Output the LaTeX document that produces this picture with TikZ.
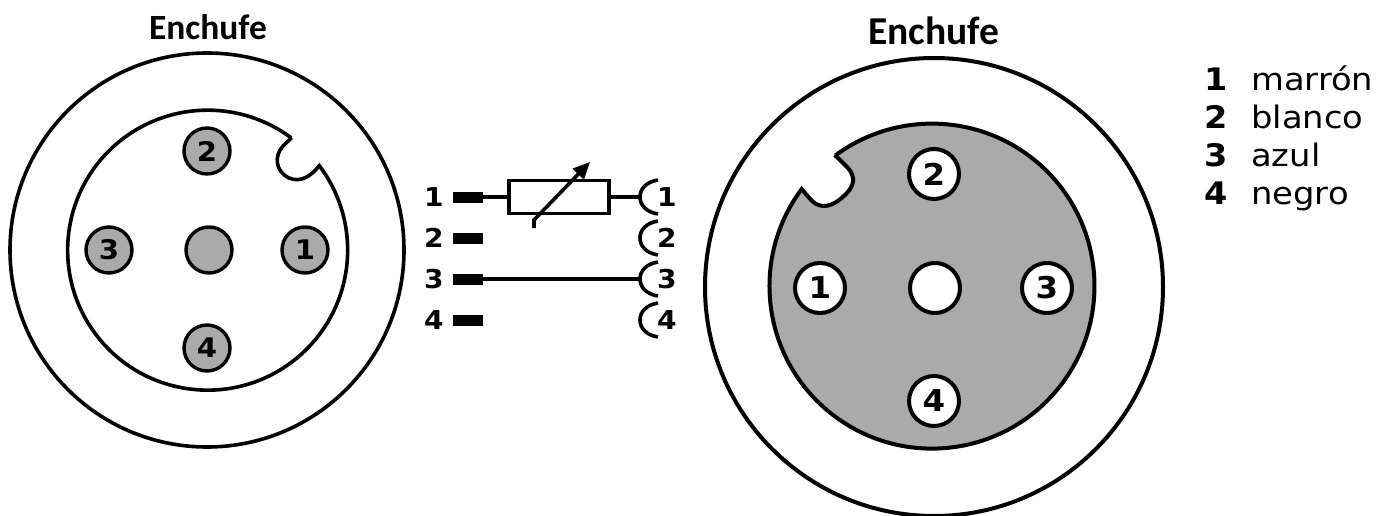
\documentclass[tikz,border=0pt]{standalone}
\usepackage{fontspec}
\setmainfont{DejaVu Sans}
\newfontfamily\titlefont{Carlito}
\newfontfamily\widefont[FakeStretch=1.09]{DejaVu Sans}
\newfontfamily\widebold[FakeStretch=1.08]{DejaVu Sans Bold}
\definecolor{pingray}{RGB}{170,170,170}
\usetikzlibrary{arrows.meta}
\tikzset{
  ln/.style={line width=3.6pt,black},
  pinL/.style={circle,draw,line width=3.4pt,fill=pingray,minimum size=46pt,inner sep=0pt,font=\widebold\fontsize{27}{27}\selectfont},
  pinR/.style={circle,draw,line width=4pt,fill=white,minimum size=50pt,inner sep=0pt,font=\widebold\fontsize{30}{30}\selectfont},
  num/.style={inner sep=0pt,font=\widebold\fontsize{26}{26}\selectfont},
  bar/.style={fill=black,draw=none,minimum width=30pt,minimum height=11pt,inner sep=0pt},
  res/.style={draw,line width=3.6pt,minimum width=100pt,minimum height=33pt,inner sep=0pt},
  sock/.style={inner sep=0pt,minimum size=0pt},
  title/.style={inner sep=0pt,font=\titlefont\bfseries\fontsize{35.5}{35.5}\selectfont},
  leg/.style={inner sep=0pt,anchor=base west,font=\widefont\fontsize{31}{31}\selectfont},
  legn/.style={inner sep=0pt,anchor=base,font=\widebold\fontsize{31}{31}\selectfont},
}
\begin{document}
\begin{tikzpicture}[x=1pt,y=-1pt]
\useasboundingbox (0,0) rectangle (1392,516);
\node[title] (tl) at (208,27.5) {Enchufe};
\node[title,font=\titlefont\bfseries\fontsize{39.5}{39.5}\selectfont] (tr) at (934,30.5) {Enchufe};
% left plug
\draw[ln] (207,250) circle[radius=197];
\draw[ln,line join=miter] (291.7,137.7) -- (283,146) .. controls (274,156) and (275,171) .. (289,178)
  .. controls (301,183) and (311,176) .. (319.3,165.7)
  arc[start angle=-37.1,end angle=306.7,radius=140];
\node[pinL] (l2) at (207,151) {2};
\node[pinL] (l3) at (109,250) {3};
\node[pinL] (lc) at (209,250) {};
\node[pinL] (l1) at (305,250) {1};
\node[pinL] (l4) at (207,348) {4};
% right socket
\draw[ln,line width=4pt] (934,287) circle[radius=229];
\draw[ln,line width=4pt,fill=pingray,line join=miter] (835,155) -- (848,168) .. controls (856,177) and (854,186) .. (846,194)
  .. controls (836,204) and (826,209) .. (816,204) .. controls (811,201) and (806,194) .. (801.7,189)
  arc[start angle=216.7,end angle=-126.5,radius=162.5] -- cycle;
\node[pinR] (r2) at (934,174) {2};
\node[pinR] (r1) at (820,288) {1};
\node[pinR] (rc) at (935,288) {};
\node[pinR] (r3) at (1047,288) {3};
\node[pinR] (r4) at (934,401) {4};
% middle
\foreach \i/\y in {1/197,2/238,3/279,4/320}{
  \node[num] (a\i) at (434,\y) {\i};
  \node[bar] (b\i) at (468,\y) {};
  \node[sock] (s\i) at (640,\y) {};
  \node[num] (c\i) at (667,\y) {\i};
  \draw[ln] ([shift={(18,-17)}]s\i.center) .. controls ([shift={(6,-15)}]s\i.center) and ([shift={(0,-8)}]s\i.center) .. (s\i.center)
     .. controls ([shift={(0,8)}]s\i.center) and ([shift={(6,15)}]s\i.center) .. ([shift={(18,17)}]s\i.center);
}
\node[res] (R) at (559,197) {};
\draw[ln] (b1.east) -- (R.west);
\draw[ln] (R.east) -- (s1.center);
\draw[ln] (b3.east) -- (s3.center);
\coordinate (ws) at (534,228);
\coordinate (wk) at (534,220);
\coordinate (we) at (590,162);
\draw[ln,-{Triangle[length=17pt,width=15pt]}] (ws) -- (wk) -- (we);
% legend
\node[legn] (n1) at (1216,90.5) {1}; \node[leg] (t1) at (1251,90.5) {marrón};
\node[legn] (n2) at (1216,128.5) {2}; \node[leg] (t2) at (1251,128.5) {blanco};
\node[legn] (n3) at (1216,166.5) {3}; \node[leg] (t3) at (1251,166.5) {azul};
\node[legn] (n4) at (1216,204.5) {4}; \node[leg] (t4) at (1251,204.5) {negro};
\end{tikzpicture}
\end{document}
